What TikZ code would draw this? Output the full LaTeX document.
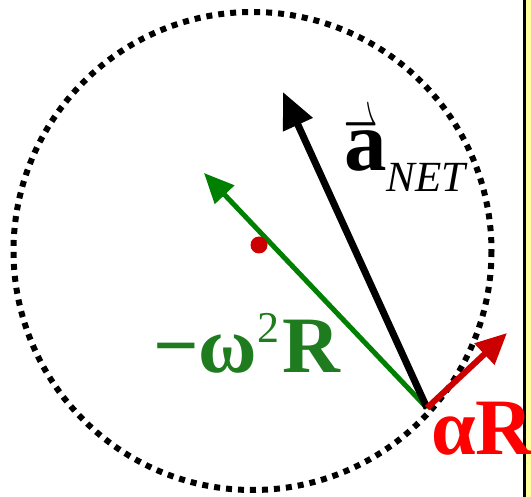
\documentclass[tikz,border=0pt]{standalone}
\usepackage{fix-cm}
\usepackage{fontspec}
\setmainfont{Liberation Serif}
\usetikzlibrary{arrows.meta}
\definecolor{vecgreen}{HTML}{008000}
\definecolor{txtgreen}{HTML}{1E7B1E}
\definecolor{vecred}{HTML}{CC0000}
\definecolor{txtred}{HTML}{FF0000}
\definecolor{stripbg}{HTML}{FFFFA0}
\tikzset{
  rim/.style={line width=6pt,dash pattern=on 6pt off 6pt},
  arrowblack/.style={-{Triangle[length=36pt,width=31pt]},line width=7pt,black},
  arrowgreen/.style={-{Triangle[length=30pt,width=26pt]},line width=5pt,vecgreen},
  arrowred/.style={-{Triangle[length=31pt,width=28pt]},line width=6pt,vecred},
  lbl/.style={inner sep=0pt,anchor=base west},
}
\newcommand{\harpoonover}[1]{\makebox[0pt][l]{\raisebox{25pt}{\scalebox{0.4}[1]{$\rightharpoonup$}}}#1}

\begin{document}
\begin{tikzpicture}[x=1pt,y=-1pt]
  \useasboundingbox (0,0) rectangle (531,497);
  % right margin strip
  \fill[stripbg] (525,0) rectangle (531,497);
  \draw[line width=3pt] (524.5,0) -- (524.5,497);
  % rim of the wheel
  \draw[rim] (252.5,251) circle[radius=239];
  % vectors
  \coordinate (O) at (427,408);
  \coordinate (tipnet) at (283,92);
  \coordinate (tipcen) at (204,173);
  \coordinate (tiptan) at (507,333);
  \draw[arrowgreen] (O) -- (tipcen);
  \draw[arrowblack] (O) -- (tipnet);
  \draw[arrowred] (O) -- (tiptan);
  \node[circle,fill=vecred,inner sep=0pt,minimum size=17pt] (dot) at (259,245) {};
  % labels
  \node[lbl] (aNet) at (344,171)
    {\fontsize{85}{85}\selectfont\bfseries\harpoonover{a}\raisebox{-21pt}{\fontsize{43}{43}\selectfont\mdseries\itshape NET}};
  \node[lbl,text=txtgreen] (omegaR) at (153,373)
    {\fontsize{80}{80}\selectfont\bfseries −ω\raisebox{30pt}{\fontsize{44}{44}\selectfont\mdseries 2}\kern3pt R};
  \node[lbl,text=txtred] (alphaR) at (431,455)
    {\fontsize{80}{80}\selectfont\bfseries αR};
\end{tikzpicture}
\end{document}
